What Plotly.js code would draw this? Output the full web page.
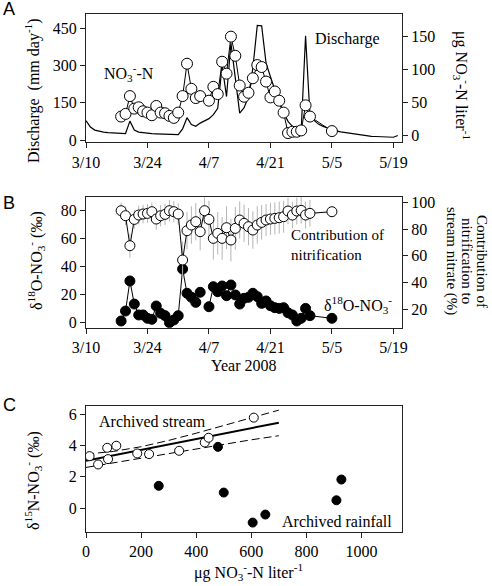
<!DOCTYPE html>
<html>
<head>
<meta charset="utf-8">
<script src="https://cdn.plot.ly/plotly-3.0.1.min.js"></script>
<style>html,body{margin:0;padding:0;background:#fff;}#chart{width:492px;height:586px;}</style>
</head>
<body>
<div id="chart"></div>
<script>
// ---------------- DATA ----------------
// Panel A: daily discharge (mm/day) starting 2008-03-10
const dischargeStart = '2008-03-10';
const dischargeValues = [78,52,40,35,32,30,29,28,27,26,76,40,32,29,27,26,25,24,24,23,22,22,45,90,62,55,68,76,86,102,128,300,175,390,250,108,130,175,290,462,460,310,255,200,150,110,75,55,45,38,420,100,78,63,55,48,42,37,33,30,27,24,21,19,17,15,14,13,12,11,11,18];

// Panel A: stream nitrate (ug NO3-N / L)
const datesA = ['2008-03-18','2008-03-19','2008-03-20','2008-03-21','2008-03-22','2008-03-23','2008-03-24','2008-03-25','2008-03-26','2008-03-27','2008-03-28','2008-03-29','2008-03-30','2008-03-31',
  '2008-04-01','2008-04-02','2008-04-03','2008-04-04','2008-04-05',
  '2008-04-07','2008-04-08','2008-04-09','2008-04-10','2008-04-11','2008-04-12','2008-04-13','2008-04-14','2008-04-15','2008-04-16','2008-04-17','2008-04-18','2008-04-19','2008-04-20','2008-04-21','2008-04-22','2008-04-23','2008-04-24','2008-04-25','2008-04-26','2008-04-27','2008-04-28','2008-04-29','2008-04-30',
  '2008-05-05'];
const no3Values = [29,33,60,41,43,37,35,31,45,35,34,30,27,35,
  60,109,71,57,60,
  53,74,63,112,94,150,121,76,59,65,87,107,104,82,58,67,53,35,4,6,6,8,46,29,
  7];

// Panel B
const datesB = ['2008-03-18','2008-03-19','2008-03-20','2008-03-21','2008-03-22','2008-03-23','2008-03-24','2008-03-25','2008-03-26','2008-03-27','2008-03-28','2008-03-29','2008-03-30','2008-03-31',
  '2008-04-01','2008-04-02','2008-04-03','2008-04-04','2008-04-05','2008-04-06','2008-04-07','2008-04-08','2008-04-09','2008-04-10','2008-04-11','2008-04-12','2008-04-13','2008-04-14','2008-04-15','2008-04-16','2008-04-17','2008-04-18','2008-04-19','2008-04-20','2008-04-21','2008-04-22','2008-04-23','2008-04-24','2008-04-25','2008-04-26','2008-04-27','2008-04-28','2008-04-29','2008-04-30',
  '2008-05-05'];
const contribution = [93.75,90,67.5,87.25,90.5,91.25,91.75,93,87.5,90,91,93.75,93,91.25,
  56.75,78.75,83,85.5,78,93.75,87.25,73,76.75,73,81,71.75,80.5,86.75,84.25,81.75,79.25,83,85,86.75,87.5,88,88.5,89.25,93.5,90.5,93.5,94,90.5,91.75,
  93];
const contributionErr = [6,7,9,7,7,7,7,7,8,8,8,8,8,8,
  14,14,14,14,14,10,14,16,16,16,16,16,16,14,14,14,14,14,13,12,12,12,12,12,10,10,10,10,10,10,
  0];
const d18O = [1.2,8.3,29.8,13.3,5.5,5.5,3.1,2.4,11.9,6.7,5,0,1.9,5,
  38.3,21,18.1,14.5,21.7,null,11.4,25.7,22.1,26.2,19.3,26.9,19.8,13.3,17.4,18.1,21,18.6,13.8,15.5,12.1,10.7,10.2,10.7,7.1,5.5,1.2,3.1,10.2,5,
  3.1];

// Panel C
const streamX = [13,44,77,80,110,186,229,338,431,445,609];
const streamY = [3.32,2.79,3.85,3.13,3.98,3.49,3.45,3.66,4.19,4.49,5.77];
const rainX = [264,479,500,605,651,909,927];
const rainY = [1.43,3.91,1.0,-0.91,-0.40,0.51,1.83];
const regX = [0,700];
const regY = [3.02,5.45];
const bandX = [0,100,200,300,400,500,600,700];
const bandUpper = [3.45,3.62,3.92,4.32,4.78,5.28,5.78,6.25];
const bandLower = [2.6,2.9,3.2,3.5,3.8,4.08,4.36,4.62];

// ---------------- BUILD ----------------
function addDays(start, n){
  const d = new Date(start + 'T00:00:00Z');
  d.setUTCDate(d.getUTCDate() + n);
  return d.toISOString().slice(0,10);
}
const dischargeDates = dischargeValues.map((v,i)=>addDays(dischargeStart,i));

const FONT = 'Liberation Serif, Times New Roman, serif';
const AX = '#222';
const openMarker = (s)=>({symbol:'circle', size:s, color:'#fff', line:{color:'#000', width:1}});
const fillMarker = (s)=>({symbol:'circle', size:s, color:'#000', line:{color:'#000', width:1}});

const traces = [
  {x:dischargeDates, y:dischargeValues, xaxis:'x', yaxis:'y', mode:'lines', line:{color:'#000', width:1.2}, hoverinfo:'skip'},
  {x:datesA, y:no3Values, xaxis:'x', yaxis:'y2', mode:'lines+markers', line:{color:'#000', width:1}, marker:openMarker(11)},
  // B: error bars (behind)
  {x:datesB, y:contribution, xaxis:'x2', yaxis:'y4', mode:'markers', marker:{size:1, color:'rgba(0,0,0,0)'},
   error_y:{type:'data', array:contributionErr, visible:true, color:'#b5b5b5', thickness:1, width:0}},
  {x:datesB, y:d18O, xaxis:'x2', yaxis:'y3', mode:'lines+markers', line:{color:'#000', width:1}, marker:fillMarker(10), connectgaps:false},
  {x:datesB, y:contribution, xaxis:'x2', yaxis:'y4', mode:'lines+markers', line:{color:'#000', width:1}, marker:openMarker(10)},
  // C
  {x:bandX, y:bandUpper, xaxis:'x3', yaxis:'y5', mode:'lines', line:{color:'#000', width:1, dash:'8px,4px'}},
  {x:bandX, y:bandLower, xaxis:'x3', yaxis:'y5', mode:'lines', line:{color:'#000', width:1, dash:'8px,4px'}},
  {x:regX, y:regY, xaxis:'x3', yaxis:'y5', mode:'lines', line:{color:'#000', width:2}},
  {x:streamX, y:streamY, xaxis:'x3', yaxis:'y5', mode:'markers', marker:openMarker(9)},
  {x:rainX, y:rainY, xaxis:'x3', yaxis:'y5', mode:'markers', marker:fillMarker(9)}
];

const tickFont = {family:FONT, size:16, color:'#000'};
const baseAxis = {showline:true, linecolor:AX, linewidth:1, ticks:'outside', ticklen:5, tickwidth:1, tickcolor:AX,
  showgrid:false, zeroline:false, tickfont:tickFont, fixedrange:true};

const dateAxis = Object.assign({}, baseAxis, {type:'date', range:['2008-03-10','2008-05-20 23:00'],
  tick0:'2008-03-10', dtick:14*86400000, tickformat:'%-m/%-d', mirror:true});

const L = 86, W = 316, T = 14, H = 518;
const px = (x)=>(x - L)/W;
const py = (y)=>(T + H - y)/H;

const layout = {
  width:492, height:586, showlegend:false,
  margin:{l:86, r:90, t:14, b:54},
  paper_bgcolor:'#fff', plot_bgcolor:'#fff',
  font:{family:FONT, size:16, color:'#000'},
  xaxis:Object.assign({}, dateAxis, {domain:[0,1], anchor:'y'}),
  yaxis:Object.assign({}, baseAxis, {domain:[0.7523,1], anchor:'x', range:[-9.3,507.6], tickvals:[0,150,300,450]}),
  yaxis2:Object.assign({}, baseAxis, {overlaying:'y', side:'right', anchor:'x', range:[-10,184.3], tickvals:[0,50,100,150]}),
  xaxis2:Object.assign({}, dateAxis, {domain:[0,1], anchor:'y3'}),
  yaxis3:Object.assign({}, baseAxis, {domain:[0.3944,0.6473], anchor:'x2', range:[-3.6,90], tickvals:[0,20,40,60,80]}),
  yaxis4:Object.assign({}, baseAxis, {overlaying:'y3', side:'right', anchor:'x2', range:[6,104.25], tickvals:[20,40,60,80,100]}),
  xaxis3:Object.assign({}, baseAxis, {domain:[0,1], anchor:'y5', range:[0,1147], tickvals:[0,200,400,600,800,1000], mirror:true}),
  yaxis5:Object.assign({}, baseAxis, {domain:[0,0.2438], anchor:'x3', range:[-1.51,6.53], tickvals:[0,2,4,6], mirror:true}),
  annotations:[]
};

function ann(text, x, y, opts){
  layout.annotations.push(Object.assign({text:text, xref:'paper', yref:'paper', x:px(x), y:py(y),
    showarrow:false, xanchor:'center', yanchor:'middle', font:{family:FONT, size:16, color:'#000'}}, opts||{}));
}
// panel letters
const letterFont = {family:'Liberation Sans, Arial, sans-serif', size:18, color:'#000'};
ann('A', 9, 9, {font:letterFont});
ann('B', 9, 203, {font:letterFont});
ann('C', 9.5, 405, {font:letterFont});
// axis titles
const f15 = {family:FONT, size:15, color:'#000'};
ann('Discharge  (mm day<sup>-1</sup>)', 32, 91, {textangle:-90});
ann('μg NO<sub>3</sub><sup>-</sup>-N liter<sup>-1</sup>', 462, 86, {textangle:90});
ann('δ<sup>18</sup>O-NO<sub>3</sub><sup>-</sup> (‰)', 36, 261, {textangle:-90});
ann('Contribution of', 482, 261, {textangle:90, font:f15});
ann('nitrification to', 467, 261, {textangle:90, font:f15});
ann('stream nitrate (%)', 452, 261, {textangle:90, font:f15});
ann('Year 2008', 243, 365);
ann('δ<sup>15</sup>N-NO<sub>3</sub><sup>-</sup> (‰)', 33, 481, {textangle:-90});
ann('μg NO<sub>3</sub><sup>-</sup>-N liter<sup>-1</sup>', 248, 572);
// in-plot labels
ann('NO<sub>3</sub><sup>-</sup>-N', 129, 73);
ann('Discharge', 347, 39);
ann('Contribution of<br>nitrification', 289, 245, {xanchor:'left', align:'left', font:f15});
ann('δ<sup>18</sup>O-NO<sub>3</sub><sup>-</sup>', 322, 305, {xanchor:'left'});
ann('Archived stream', 97, 421, {xanchor:'left'});
ann('Archived rainfall', 280, 521, {xanchor:'left'});

Plotly.newPlot('chart', traces, layout, {staticPlot:true, displayModeBar:false});
</script>
</body>
</html>
